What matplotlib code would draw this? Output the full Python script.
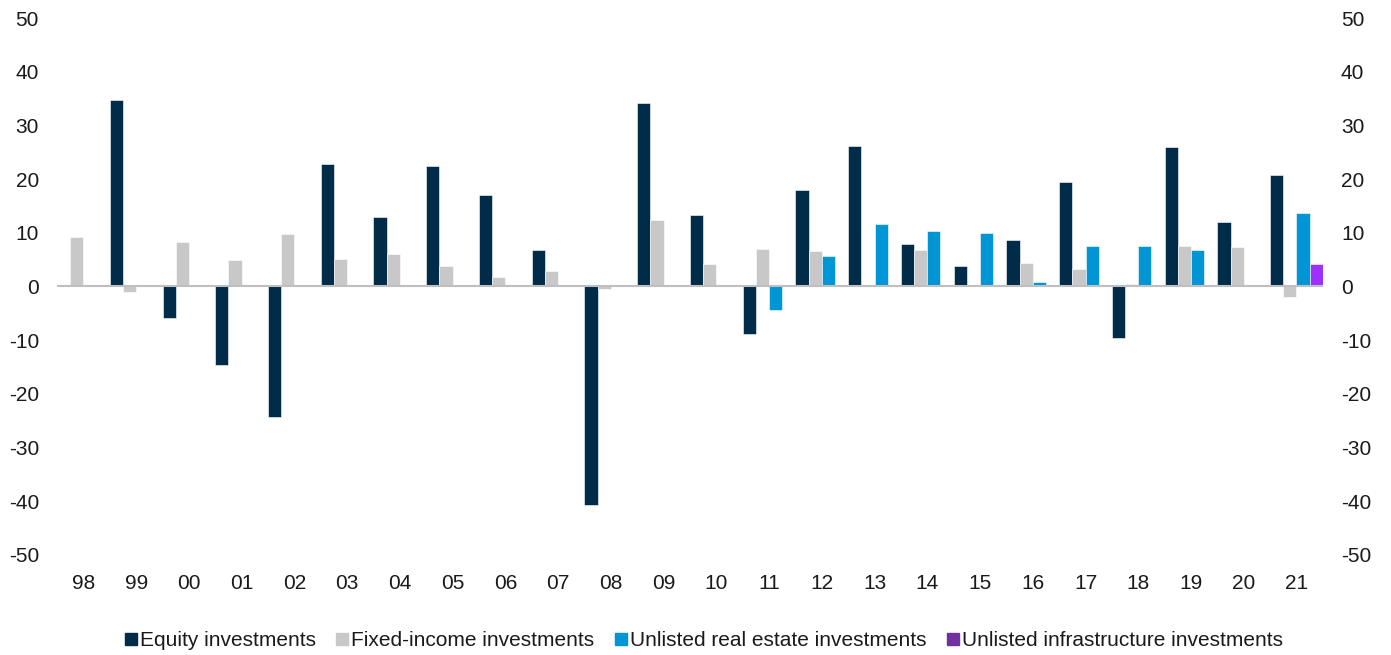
import numpy as np
import matplotlib.pyplot as plt
from matplotlib.lines import Line2D

plt.rcParams['font.family'] = ['Liberation Sans', 'DejaVu Sans']
plt.rcParams['axes.unicode_minus'] = False

years = ['98', '99', '00', '01', '02', '03', '04', '05', '06', '07', '08', '09',
         '10', '11', '12', '13', '14', '15', '16', '17', '18', '19', '20', '21']
equity = [0, 34.7, -5.9, -14.6, -24.3, 22.8, 12.9, 22.4, 17.0, 6.8, -40.7, 34.2,
          13.3, -8.9, 18.0, 26.2, 7.9, 3.8, 8.7, 19.4, -9.5, 26.0, 12.1, 20.7]
fixed_income = [9.3, -1.0, 8.3, 5.0, 9.8, 5.2, 6.0, 3.8, 1.8, 2.9, -0.5, 12.4,
                4.1, 7.0, 6.6, 0, 6.8, 0.3, 4.3, 3.3, 0.5, 7.5, 7.4, -2.0]
real_estate = [0, 0, 0, 0, 0, 0, 0, 0, 0, 0, 0, 0,
               0, -4.4, 5.7, 11.7, 10.3, 9.9, 0.8, 7.5, 7.5, 6.8, 0.1, 13.6]
infrastructure = [0] * 23 + [4.2]

series = [
    ('Equity investments', equity, '#002B49', '#002B49'),
    ('Fixed-income investments', fixed_income, '#C8C8C8', '#C8C8C8'),
    ('Unlisted real estate investments', real_estate, '#0096D6', '#0096D6'),
    ('Unlisted infrastructure investments', infrastructure, '#9B30FF', '#7030A0'),
]

fs = 15

fig = plt.figure(figsize=(13.91, 6.55), dpi=100)
ax = fig.add_axes([0.041, 0.1527, 0.910, 0.8198])

x = np.arange(len(years))
w = 0.25
handles = []
for i, (name, vals, col, lcol) in enumerate(series):
    ax.bar(x + (i - 1.5) * w, vals, width=w, color=col, edgecolor='white',
           linewidth=0.4, zorder=2)
    handles.append(Line2D([], [], marker='s', linestyle='none', color=lcol,
                          markersize=8, label=name))

ax.axhline(0, color='#BFBFBF', linewidth=1.5, zorder=3)

ax.set_xlim(-0.5, 23.5)
ax.set_ylim(-50, 50)
ax.set_yticks(range(-50, 51, 10))
ax.set_xticks(x)
ax.set_xticklabels(years)
for s in ax.spines.values():
    s.set_visible(False)
ax.tick_params(axis='y', length=0, pad=13, labelsize=fs, labelcolor='#1A1A1A',
               labelright=True)
ax.tick_params(axis='x', length=0, pad=14, labelsize=fs, labelcolor='#1A1A1A')

fig.legend(handles=handles, loc='center', bbox_to_anchor=(0.506, 0.022),
           ncol=4, frameon=False, fontsize=fs, handlelength=0.55,
           handletextpad=0.15, columnspacing=1.0, labelcolor='#1A1A1A')

fig.savefig('out.png', dpi=100)
